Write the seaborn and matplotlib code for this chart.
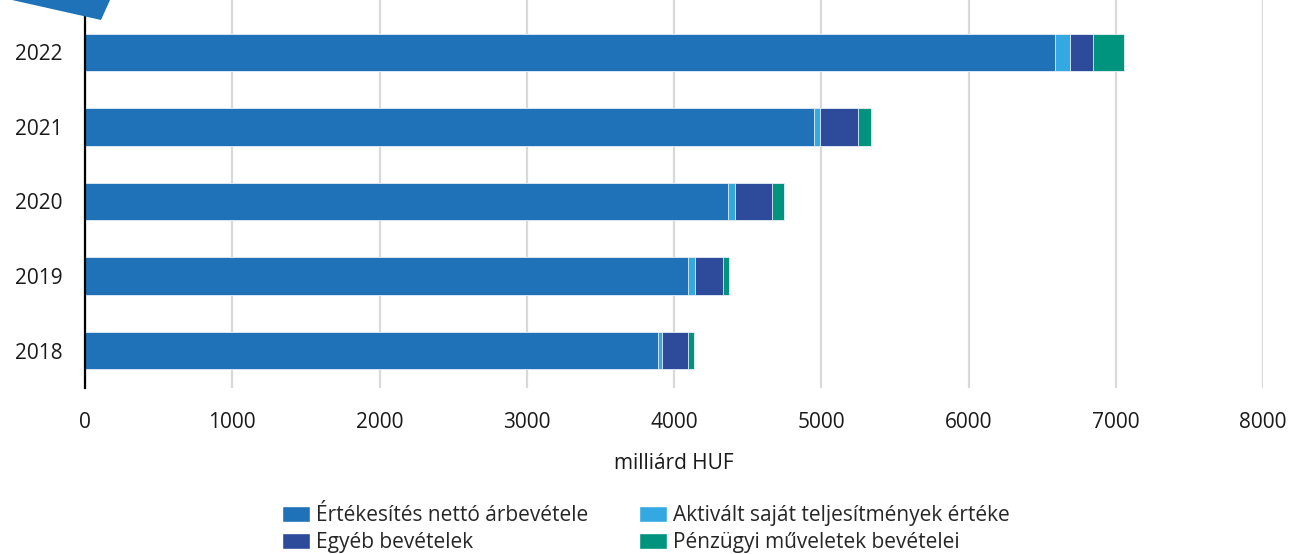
import matplotlib
matplotlib.use('Agg')
import matplotlib.pyplot as plt
import seaborn as sns
import pandas as pd
from matplotlib.patches import Patch, Polygon

# data (milliard HUF)
years = ['2022', '2021', '2020', '2019', '2018']
ertekesites = [6585, 4954, 4369, 4095, 3893]
aktivalt = [103, 36, 45, 45, 24]
egyeb = [155, 257, 254, 193, 180]
penzugyi = [213, 91, 81, 41, 41]

labels = ['Értékesítés nettó árbevétele', 'Aktivált saját teljesítmények értéke',
          'Egyéb bevételek', 'Pénzügyi műveletek bevételei']
colors = ['#1f72b8', '#34a9e1', '#2e4a9a', '#00937e']

df = pd.DataFrame({'year': years, 'e': ertekesites, 'a': aktivalt, 'g': egyeb, 'p': penzugyi})
# cumulative sums so the layers can be overlaid
df['c1'] = df['e']
df['c2'] = df['c1'] + df['a']
df['c3'] = df['c2'] + df['g']
df['c4'] = df['c3'] + df['p']

sns.set_style('white')
plt.rcParams['font.family'] = ['Open Sans', 'DejaVu Sans']

fig = plt.figure(figsize=(12.9, 5.54), dpi=100)
ax = fig.add_axes([85/1290, 1-388/554, (1263-85)/1290, 388/554])

# draw from the longest layer to the shortest
for col, c in zip(['c4', 'c3', 'c2', 'c1'], colors[::-1]):
    sns.barplot(data=df, x=col, y='year', order=years, orient='h', color=c,
                saturation=1, width=0.5, edgecolor='#e8f0f8', linewidth=0.6,
                ax=ax, zorder=3)

ax.set_xlim(0, 8000)
ax.set_ylim(4.5, -0.7)
ax.set_xticks(range(0, 8001, 1000))
ax.grid(axis='x', color='#d9d9d9', linewidth=1.6, zorder=0)
ax.grid(axis='y', visible=False)
for s in ['top', 'right', 'bottom']:
    ax.spines[s].set_visible(False)
ax.spines['left'].set_color('black')
ax.spines['left'].set_linewidth(1.6)
ax.spines['left'].set_bounds(4.5, -0.5)
ax.spines['left'].set_zorder(5)
ax.tick_params(axis='both', length=0, labelsize=15, colors='#1a1a1a')
ax.tick_params(axis='x', pad=17)
ax.tick_params(axis='y', pad=16)
ax.set_ylabel('')
ax.set_xlabel('milliárd HUF', fontsize=15, labelpad=15, color='#1a1a1a')

handles = [Patch(facecolor=c, label=l) for c, l in zip(colors, labels)]
# reorder so that row 1 holds items 1,2 and row 2 holds 3,4
order = [0, 2, 1, 3]
fig.legend([handles[i] for i in order], [labels[i] for i in order], ncol=2,
           loc='center', bbox_to_anchor=(646/1290, 1-529/554), frameon=False,
           fontsize=15, handlelength=1.35, handleheight=0.8, handletextpad=0.3,
           columnspacing=2.4, labelspacing=0.3, borderpad=0)

# blue decorative corner shape
poly = Polygon([(12/1290, 1.0), (101/1290, 1-20/554), (110/1290, 1.0)],
               closed=True, transform=fig.transFigure, facecolor='#1f72b8',
               edgecolor='none', zorder=10)
fig.patches.append(poly)

fig.savefig('out.png', dpi=100)
